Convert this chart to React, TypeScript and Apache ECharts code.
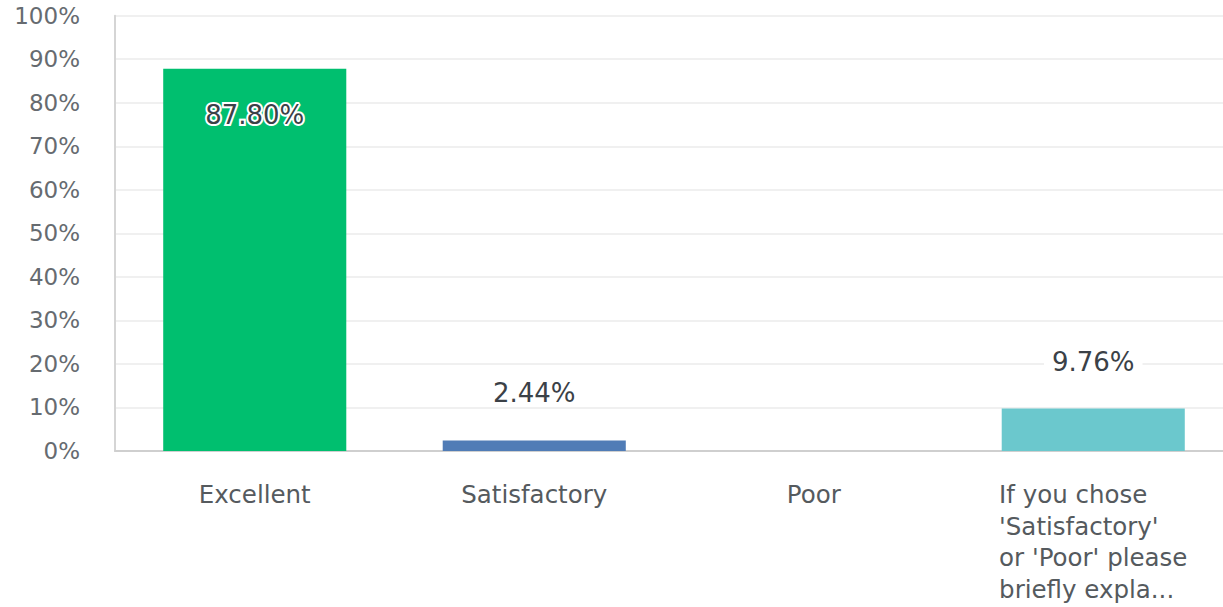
import React, { useEffect, useRef } from "react";
import * as echarts from "echarts";

const categories: string[] = [
  "Excellent",
  "Satisfactory",
  "Poor",
  "If you chose\n'Satisfactory'\nor 'Poor' please\nbriefly expla...",
];
const values: number[] = [87.8, 2.44, 0, 9.76];
const barColors: string[] = ["#00BF6F", "#507CB6", "#7B6FB5", "#6BC8CD"];
const yTicks = { min: 0, max: 100, interval: 10 };

export default function App() {
  const ref = useRef<HTMLDivElement>(null);
  useEffect(() => {
    if (!ref.current) return;
    const chart = echarts.init(ref.current, undefined, { renderer: "svg" });
    const font = "DejaVu Sans";
    chart.setOption({
      animation: false,
      grid: { left: 115, right: 0, top: 15.7, bottom: 156, containLabel: false },
      xAxis: {
        type: "category",
        data: categories,
        axisLine: { lineStyle: { color: "#cfcfcf", width: 2 } },
        axisTick: { show: false },
        axisLabel: {
          margin: 28,
          interval: 0,
          fontFamily: font,
          fontSize: 24.5,
          color: "#555a5e",
          lineHeight: 31.5,
          formatter: (v: string) =>
            v
              .split("\n")
              .map((s) => "{l|" + s + "}")
              .join("\n"),
          rich: {
            l: {
              align: "left",
              fontFamily: font,
              fontSize: 24.5,
              color: "#555a5e",
              lineHeight: 31.5,
            },
          },
        },
      },
      yAxis: {
        type: "value",
        min: yTicks.min,
        max: yTicks.max,
        interval: yTicks.interval,
        axisLine: { show: true, lineStyle: { color: "#d5d5d5", width: 2 } },
        axisTick: { show: false },
        splitLine: { lineStyle: { color: "#ebebeb", width: 1.5 } },
        axisLabel: {
          margin: 35,
          formatter: "{value}%",
          fontFamily: font,
          fontSize: 23,
          color: "#666b70",
          padding: [5, 0, 0, 0],
        },
      },
      series: [
        {
          type: "bar",
          barWidth: "65.5%",
          data: values.map((v, i) => ({
            value: v,
            itemStyle: { color: barColors[i] },
            label:
              v === 0
                ? { show: false }
                : v > 50
                ? {
                    show: true,
                    position: "insideTop",
                    distance: 33,
                    textBorderColor: "#ffffff",
                    textBorderWidth: 4,
                  }
                : {
                    show: true,
                    position: "top",
                    distance: 34,
                    backgroundColor: "#ffffff",
                    padding: [0, 8],
                  },
          })),
          label: {
            show: true,
            fontFamily: font,
            fontSize: 26,
            color: "#3b4147",
            formatter: (p: any) => p.value.toFixed(2) + "%",
          },
        },
      ],
    });
    return () => chart.dispose();
  }, []);
  return (
    <div
      style={{
        position: "absolute",
        left: 0,
        top: 0,
        width: 1223,
        height: 607,
        overflow: "hidden",
      }}
    >
      <div ref={ref} style={{ width: 1233, height: 607 }} />
    </div>
  );
}
